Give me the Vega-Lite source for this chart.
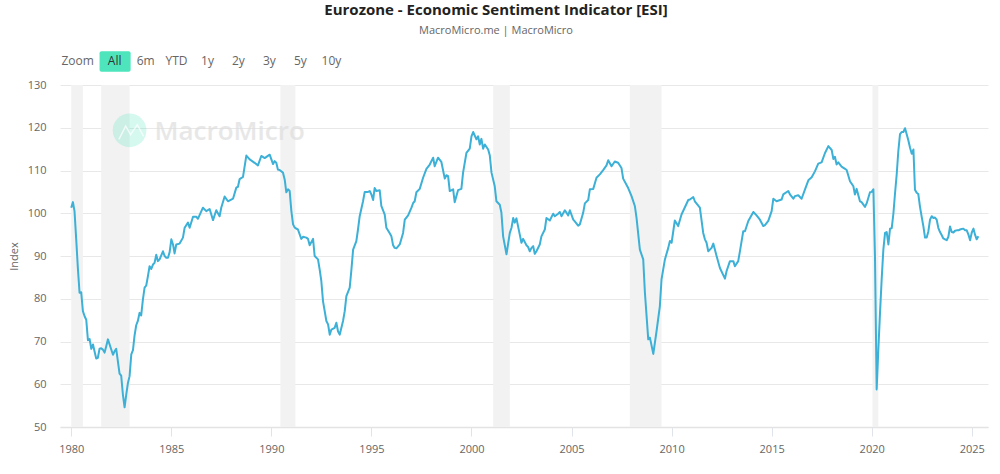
{
  "$schema": "https://vega.github.io/schema/vega-lite/v6.json",
  "description": "Eurozone Economic Sentiment Indicator with recession bands.",
  "width": 928,
  "height": 342,
  "autosize": {"type": "none"},
  "padding": {"left": 60, "top": 85, "right": 12, "bottom": 47},
  "background": "#ffffff",
  "title": {
    "text": "Eurozone - Economic Sentiment Indicator [ESI]",
    "subtitle": "MacroMicro.me | MacroMicro",
    "anchor": "middle",
    "frame": "group",
    "dx": -28,
    "offset": 15,
    "font": "Open Sans",
    "fontSize": 15,
    "fontWeight": "bold",
    "color": "#222222",
    "subtitleFont": "Open Sans",
    "subtitleFontSize": 11,
    "subtitleColor": "#666666",
    "subtitlePadding": 7
  },
  "config": {
    "view": {"stroke": null},
    "font": "Open Sans"
  },
  "datasets": {
    "recessions": [
      {"start": "1980-01-01", "end": "1980-08-01"},
      {"start": "1981-07-01", "end": "1982-12-01"},
      {"start": "1990-06-15", "end": "1991-03-15"},
      {"start": "2001-02-01", "end": "2001-12-01"},
      {"start": "2007-12-01", "end": "2009-07-01"},
      {"start": "2020-01-15", "end": "2020-05-01"}
    ],
    "rangeButton": [
      {"start": "1981-06-01", "end": "1982-12-20", "low": 133.1, "high": 137.9}
    ],
    "rangeLabels": [
      {"date": "1980-04-27", "level": 135.5, "label": "Zoom", "active": "no"},
      {"date": "1982-03-03", "level": 135.5, "label": "All", "active": "yes"},
      {"date": "1983-09-20", "level": 135.5, "label": "6m", "active": "no"},
      {"date": "1985-04-05", "level": 135.5, "label": "YTD", "active": "no"},
      {"date": "1986-10-23", "level": 135.5, "label": "1y", "active": "no"},
      {"date": "1988-05-10", "level": 135.5, "label": "2y", "active": "no"},
      {"date": "1989-11-25", "level": 135.5, "label": "3y", "active": "no"},
      {"date": "1991-06-15", "level": 135.5, "label": "5y", "active": "no"},
      {"date": "1993-01-01", "level": 135.5, "label": "10y", "active": "no"}
    ],
    "logoDisc": [{"date": "1982-12-01", "level": 119.4}],
    "logoPeaks": [
      {"date": "1982-05-20", "level": 117.3},
      {"date": "1982-09-20", "level": 120.4},
      {"date": "1982-12-20", "level": 118.4},
      {"date": "1983-04-20", "level": 120.7},
      {"date": "1983-08-15", "level": 118.0}
    ],
    "logoWord": [{"date": "1984-03-01", "level": 119, "label": "MacroMicro"}],
    "esi": [
      {"date":"1980-01-01","esi":101.3},{"date":"1980-02-01","esi":102.6},{"date":"1980-03-01","esi":100.5},{"date":"1980-04-01","esi":93.9},{"date":"1980-05-01","esi":87.2},{"date":"1980-06-01","esi":81.4},{"date":"1980-07-01","esi":81.5},{"date":"1980-08-01","esi":77.1},{"date":"1980-09-01","esi":75.9},{"date":"1980-10-01","esi":75.1},{"date":"1980-11-01","esi":70.3},{"date":"1980-12-01","esi":70.6},
      {"date":"1981-01-01","esi":68.3},{"date":"1981-02-01","esi":69.3},{"date":"1981-03-01","esi":67.7},{"date":"1981-04-01","esi":66.0},{"date":"1981-05-01","esi":66.2},{"date":"1981-06-01","esi":68.3},{"date":"1981-07-01","esi":68.4},{"date":"1981-08-01","esi":68.1},{"date":"1981-09-01","esi":67.4},{"date":"1981-10-01","esi":68.9},{"date":"1981-11-01","esi":70.5},
      {"date":"1982-02-01","esi":66.9},{"date":"1982-03-01","esi":67.7},{"date":"1982-04-01","esi":68.3},{"date":"1982-05-01","esi":65.4},{"date":"1982-06-01","esi":62.5},{"date":"1982-07-01","esi":62.0},{"date":"1982-08-01","esi":57.6},{"date":"1982-09-01","esi":54.6},{"date":"1982-10-01","esi":57.6},{"date":"1982-11-01","esi":60.3},{"date":"1982-12-01","esi":61.9},
      {"date":"1983-01-01","esi":67.0},{"date":"1983-02-01","esi":68.0},{"date":"1983-03-01","esi":71.3},{"date":"1983-04-01","esi":73.8},{"date":"1983-05-01","esi":74.8},{"date":"1983-06-01","esi":76.7},{"date":"1983-07-01","esi":76.1},{"date":"1983-08-01","esi":79.8},{"date":"1983-09-01","esi":82.6},{"date":"1983-10-01","esi":83.1},{"date":"1983-11-01","esi":85.3},{"date":"1983-12-01","esi":87.6},
      {"date":"1984-01-01","esi":87.0},{"date":"1984-02-01","esi":88.0},{"date":"1984-03-01","esi":88.4},{"date":"1984-04-01","esi":90.3},{"date":"1984-05-01","esi":88.8},{"date":"1984-06-01","esi":89.2},{"date":"1984-08-01","esi":91.1},{"date":"1984-09-01","esi":90.0},{"date":"1984-10-01","esi":89.6},{"date":"1984-11-01","esi":89.6},{"date":"1984-12-01","esi":90.9},
      {"date":"1985-01-01","esi":93.9},{"date":"1985-02-01","esi":92.7},{"date":"1985-03-01","esi":90.6},{"date":"1985-04-01","esi":92.7},{"date":"1985-06-01","esi":92.9},{"date":"1985-08-01","esi":94.3},{"date":"1985-09-01","esi":96.6},{"date":"1985-11-01","esi":97.8},{"date":"1985-12-01","esi":96.6},
      {"date":"1986-02-01","esi":99.2},{"date":"1986-04-01","esi":99.2},{"date":"1986-05-01","esi":98.7},{"date":"1986-08-01","esi":101.3},{"date":"1986-10-01","esi":100.5},{"date":"1986-12-01","esi":101.0},
      {"date":"1987-02-01","esi":98.4},{"date":"1987-04-01","esi":100.7},{"date":"1987-06-01","esi":99.3},{"date":"1987-07-01","esi":101.3},{"date":"1987-09-01","esi":103.9},{"date":"1987-11-01","esi":102.8},
      {"date":"1988-02-01","esi":103.4},{"date":"1988-04-01","esi":106.0},{"date":"1988-05-01","esi":106.2},{"date":"1988-06-01","esi":108.0},{"date":"1988-08-01","esi":108.5},{"date":"1988-10-01","esi":113.5},{"date":"1988-12-01","esi":112.6},
      {"date":"1989-03-01","esi":111.8},{"date":"1989-05-01","esi":111.2},{"date":"1989-07-01","esi":113.4},{"date":"1989-09-01","esi":112.9},{"date":"1989-12-01","esi":113.7},
      {"date":"1990-02-01","esi":111.5},{"date":"1990-03-01","esi":112.2},{"date":"1990-04-01","esi":111.8},{"date":"1990-05-01","esi":110.2},{"date":"1990-06-01","esi":110.1},{"date":"1990-08-01","esi":109.5},{"date":"1990-09-01","esi":107.9},{"date":"1990-10-01","esi":104.9},{"date":"1990-11-01","esi":105.6},{"date":"1990-12-01","esi":105.2},
      {"date":"1991-01-01","esi":100.5},{"date":"1991-02-01","esi":97.4},{"date":"1991-03-01","esi":96.7},{"date":"1991-04-01","esi":96.4},{"date":"1991-05-01","esi":96.2},{"date":"1991-07-01","esi":94.0},{"date":"1991-08-01","esi":94.5},{"date":"1991-10-01","esi":94.3},{"date":"1991-11-01","esi":94.0},{"date":"1991-12-01","esi":92.5},
      {"date":"1992-02-01","esi":94.0},{"date":"1992-03-01","esi":90.0},{"date":"1992-05-01","esi":89.2},{"date":"1992-06-01","esi":86.8},{"date":"1992-07-01","esi":84.1},{"date":"1992-08-01","esi":79.4},{"date":"1992-10-01","esi":74.8},{"date":"1992-11-01","esi":74.0},{"date":"1992-12-01","esi":71.6},
      {"date":"1993-01-01","esi":72.8},{"date":"1993-03-01","esi":73.2},{"date":"1993-04-01","esi":74.4},{"date":"1993-05-01","esi":72.4},{"date":"1993-06-01","esi":71.6},{"date":"1993-08-01","esi":74.8},{"date":"1993-09-01","esi":77.1},{"date":"1993-10-01","esi":80.6},{"date":"1993-12-01","esi":82.6},
      {"date":"1994-01-01","esi":86.8},{"date":"1994-02-01","esi":91.5},{"date":"1994-04-01","esi":93.5},{"date":"1994-05-01","esi":96.2},{"date":"1994-06-01","esi":99.3},{"date":"1994-08-01","esi":102.8},{"date":"1994-09-01","esi":105.0},{"date":"1994-11-01","esi":105.0},{"date":"1994-12-01","esi":105.2},
      {"date":"1995-01-01","esi":104.4},{"date":"1995-02-01","esi":103.1},{"date":"1995-03-01","esi":105.9},{"date":"1995-04-01","esi":105.2},{"date":"1995-06-01","esi":105.4},{"date":"1995-07-01","esi":101.7},{"date":"1995-09-01","esi":99.7},{"date":"1995-10-01","esi":96.6},{"date":"1995-12-01","esi":95.3},
      {"date":"1996-01-01","esi":94.6},{"date":"1996-02-01","esi":92.5},{"date":"1996-03-01","esi":91.9},{"date":"1996-04-01","esi":91.8},{"date":"1996-06-01","esi":92.7},{"date":"1996-08-01","esi":95.4},{"date":"1996-09-01","esi":98.5},{"date":"1996-11-01","esi":99.5},
      {"date":"1997-01-01","esi":101.3},{"date":"1997-02-01","esi":102.4},{"date":"1997-03-01","esi":102.8},{"date":"1997-04-01","esi":104.9},{"date":"1997-06-01","esi":105.7},{"date":"1997-08-01","esi":108.3},{"date":"1997-10-01","esi":110.4},{"date":"1997-12-01","esi":111.4},
      {"date":"1998-02-01","esi":113.0},{"date":"1998-03-01","esi":111.0},{"date":"1998-05-01","esi":113.0},{"date":"1998-07-01","esi":112.0},{"date":"1998-09-01","esi":108.1},{"date":"1998-10-01","esi":108.9},{"date":"1998-11-01","esi":108.7},{"date":"1998-12-01","esi":105.2},
      {"date":"1999-02-01","esi":105.6},{"date":"1999-03-01","esi":102.6},{"date":"1999-05-01","esi":105.4},{"date":"1999-07-01","esi":105.7},{"date":"1999-08-01","esi":109.5},{"date":"1999-10-01","esi":114.1},{"date":"1999-12-01","esi":115.1},
      {"date":"2000-01-01","esi":118.0},{"date":"2000-02-01","esi":119.0},{"date":"2000-04-01","esi":117.3},{"date":"2000-05-01","esi":118.0},{"date":"2000-06-01","esi":116.1},{"date":"2000-07-01","esi":117.4},{"date":"2000-08-01","esi":115.1},{"date":"2000-09-01","esi":116.1},{"date":"2000-11-01","esi":114.9},{"date":"2000-12-01","esi":113.5},
      {"date":"2001-01-01","esi":109.5},{"date":"2001-03-01","esi":106.3},{"date":"2001-04-01","esi":102.8},{"date":"2001-06-01","esi":102.0},{"date":"2001-07-01","esi":100.1},{"date":"2001-08-01","esi":94.6},{"date":"2001-10-01","esi":90.4},{"date":"2001-12-01","esi":95.4},
      {"date":"2002-01-01","esi":96.6},{"date":"2002-02-01","esi":98.9},{"date":"2002-03-01","esi":97.8},{"date":"2002-04-01","esi":98.8},{"date":"2002-06-01","esi":95.0},{"date":"2002-07-01","esi":93.1},{"date":"2002-08-01","esi":94.0},{"date":"2002-10-01","esi":92.5},{"date":"2002-11-01","esi":92.1},{"date":"2002-12-01","esi":91.1},
      {"date":"2003-01-01","esi":91.9},{"date":"2003-02-01","esi":92.3},{"date":"2003-03-01","esi":90.5},{"date":"2003-04-01","esi":91.1},{"date":"2003-06-01","esi":92.7},{"date":"2003-07-01","esi":94.6},{"date":"2003-09-01","esi":96.2},{"date":"2003-10-01","esi":98.9},{"date":"2003-12-01","esi":98.3},
      {"date":"2004-02-01","esi":99.9},{"date":"2004-03-01","esi":99.3},{"date":"2004-05-01","esi":99.9},{"date":"2004-06-01","esi":100.3},{"date":"2004-07-01","esi":99.3},{"date":"2004-09-01","esi":100.7},{"date":"2004-11-01","esi":99.5},{"date":"2004-12-01","esi":100.7},
      {"date":"2005-02-01","esi":98.5},{"date":"2005-03-01","esi":98.1},{"date":"2005-05-01","esi":97.1},{"date":"2005-06-01","esi":97.4},{"date":"2005-08-01","esi":100.1},{"date":"2005-09-01","esi":102.3},{"date":"2005-11-01","esi":103.1},{"date":"2005-12-01","esi":105.6},
      {"date":"2006-02-01","esi":105.7},{"date":"2006-04-01","esi":108.3},{"date":"2006-06-01","esi":109.1},{"date":"2006-08-01","esi":110.1},{"date":"2006-10-01","esi":111.2},{"date":"2006-11-01","esi":112.4},
      {"date":"2007-01-01","esi":111.0},{"date":"2007-03-01","esi":112.1},{"date":"2007-05-01","esi":111.8},{"date":"2007-07-01","esi":110.6},{"date":"2007-08-01","esi":108.1},{"date":"2007-11-01","esi":105.9},
      {"date":"2008-01-01","esi":104.0},{"date":"2008-03-01","esi":101.7},{"date":"2008-04-01","esi":98.9},{"date":"2008-06-01","esi":91.5},{"date":"2008-08-01","esi":89.2},{"date":"2008-09-01","esi":81.4},{"date":"2008-11-01","esi":70.5},{"date":"2008-12-01","esi":70.9},
      {"date":"2009-02-01","esi":67.1},{"date":"2009-04-01","esi":72.4},{"date":"2009-06-01","esi":78.3},{"date":"2009-07-01","esi":84.5},{"date":"2009-09-01","esi":89.2},{"date":"2009-11-01","esi":91.9},{"date":"2009-12-01","esi":93.5},
      {"date":"2010-01-01","esi":93.1},{"date":"2010-03-01","esi":98.3},{"date":"2010-05-01","esi":97.0},{"date":"2010-07-01","esi":99.7},{"date":"2010-09-01","esi":101.4},{"date":"2010-11-01","esi":103.1},{"date":"2010-12-01","esi":103.2},
      {"date":"2011-02-01","esi":103.8},{"date":"2011-03-01","esi":102.8},{"date":"2011-06-01","esi":101.3},{"date":"2011-08-01","esi":95.4},{"date":"2011-09-01","esi":93.9},{"date":"2011-10-01","esi":93.1},{"date":"2011-11-01","esi":91.1},
      {"date":"2012-01-01","esi":91.9},{"date":"2012-02-01","esi":92.9},{"date":"2012-04-01","esi":90.0},{"date":"2012-06-01","esi":87.2},{"date":"2012-09-01","esi":84.7},{"date":"2012-10-01","esi":86.5},{"date":"2012-12-01","esi":88.8},
      {"date":"2013-02-01","esi":88.8},{"date":"2013-03-01","esi":87.6},{"date":"2013-05-01","esi":88.8},{"date":"2013-06-01","esi":91.1},{"date":"2013-08-01","esi":95.8},{"date":"2013-09-01","esi":95.8},{"date":"2013-11-01","esi":98.2},
      {"date":"2014-02-01","esi":100.3},{"date":"2014-04-01","esi":99.5},{"date":"2014-06-01","esi":98.5},{"date":"2014-08-01","esi":97.0},{"date":"2014-09-01","esi":97.2},{"date":"2014-11-01","esi":98.2},
      {"date":"2015-01-01","esi":100.5},{"date":"2015-02-01","esi":103.4},{"date":"2015-04-01","esi":102.8},{"date":"2015-07-01","esi":103.2},{"date":"2015-08-01","esi":104.4},{"date":"2015-11-01","esi":105.2},{"date":"2015-12-01","esi":104.4},
      {"date":"2016-02-01","esi":103.4},{"date":"2016-03-01","esi":104.0},{"date":"2016-05-01","esi":104.2},{"date":"2016-07-01","esi":103.4},{"date":"2016-09-01","esi":105.6},{"date":"2016-11-01","esi":107.7},
      {"date":"2017-01-01","esi":108.4},{"date":"2017-03-01","esi":109.8},{"date":"2017-05-01","esi":111.6},{"date":"2017-07-01","esi":111.9},{"date":"2017-09-01","esi":114.1},{"date":"2017-11-01","esi":115.7},
      {"date":"2018-01-01","esi":114.8},{"date":"2018-02-01","esi":112.7},{"date":"2018-03-01","esi":113.2},{"date":"2018-04-01","esi":111.4},{"date":"2018-05-01","esi":111.9},{"date":"2018-07-01","esi":110.9},{"date":"2018-09-01","esi":110.4},{"date":"2018-10-01","esi":110.1},{"date":"2018-12-01","esi":107.5},
      {"date":"2019-02-01","esi":106.3},{"date":"2019-03-01","esi":104.4},{"date":"2019-04-01","esi":105.7},{"date":"2019-06-01","esi":102.8},{"date":"2019-07-01","esi":102.6},{"date":"2019-09-01","esi":101.5},{"date":"2019-10-01","esi":102.3},{"date":"2019-12-01","esi":104.9},
      {"date":"2020-01-01","esi":105.0},{"date":"2020-02-01","esi":105.6},{"date":"2020-03-01","esi":90.0},{"date":"2020-04-01","esi":58.8},{"date":"2020-05-01","esi":68.0},{"date":"2020-06-01","esi":76.7},{"date":"2020-07-01","esi":84.5},{"date":"2020-08-01","esi":91.5},{"date":"2020-09-01","esi":95.4},{"date":"2020-10-01","esi":95.6},{"date":"2020-11-01","esi":92.7},{"date":"2020-12-01","esi":96.4},
      {"date":"2021-01-01","esi":96.5},{"date":"2021-02-01","esi":100.0},{"date":"2021-03-01","esi":104.5},{"date":"2021-04-01","esi":109.0},{"date":"2021-05-01","esi":114.5},{"date":"2021-06-01","esi":118.5},{"date":"2021-07-01","esi":119.0},{"date":"2021-08-01","esi":119.0},{"date":"2021-09-01","esi":119.9},{"date":"2021-10-01","esi":118.5},{"date":"2021-11-01","esi":117.0},{"date":"2021-12-01","esi":115.3},
      {"date":"2022-01-01","esi":113.9},{"date":"2022-02-01","esi":114.9},{"date":"2022-03-01","esi":105.5},{"date":"2022-04-01","esi":104.8},{"date":"2022-05-01","esi":104.5},{"date":"2022-06-01","esi":101.5},{"date":"2022-07-01","esi":99.2},{"date":"2022-08-01","esi":97.0},{"date":"2022-09-01","esi":94.3},{"date":"2022-10-01","esi":94.3},{"date":"2022-11-01","esi":95.8},{"date":"2022-12-01","esi":98.5},
      {"date":"2023-01-01","esi":99.3},{"date":"2023-02-01","esi":98.9},{"date":"2023-03-01","esi":99.0},{"date":"2023-04-01","esi":98.5},{"date":"2023-05-01","esi":96.6},{"date":"2023-06-01","esi":95.6},{"date":"2023-07-01","esi":94.9},{"date":"2023-08-01","esi":94.1},{"date":"2023-09-01","esi":93.9},{"date":"2023-10-01","esi":93.7},{"date":"2023-11-01","esi":94.5},{"date":"2023-12-01","esi":96.9},
      {"date":"2024-01-01","esi":95.6},{"date":"2024-02-01","esi":95.5},{"date":"2024-03-01","esi":95.9},{"date":"2024-04-01","esi":96.0},{"date":"2024-05-01","esi":96.0},{"date":"2024-06-01","esi":96.2},{"date":"2024-07-01","esi":96.3},{"date":"2024-08-01","esi":96.4},{"date":"2024-09-01","esi":96.0},{"date":"2024-10-01","esi":96.0},{"date":"2024-11-01","esi":95.0},{"date":"2024-12-01","esi":93.7},
      {"date":"2025-01-01","esi":95.5},{"date":"2025-02-01","esi":96.4},{"date":"2025-03-01","esi":95.0},{"date":"2025-04-01","esi":93.9},{"date":"2025-05-01","esi":94.6}
    ]
  },
  "layer": [
    {
      "data": {"name": "recessions"},
      "mark": {"type": "rect", "color": "#f2f2f2"},
      "encoding": {
        "x": {
          "field": "start",
          "type": "temporal",
          "scale": {"type": "utc", "domain": ["1979-06-10", "2025-10-24"]},
          "axis": {
            "title": null,
            "format": "%Y",
            "tickCount": {"interval": "year", "step": 5},
            "grid": false,
            "domainColor": "#e3e3e3",
            "domainWidth": 1.5,
            "tickColor": "#dfe3ea",
            "tickSize": 9,
            "labelColor": "#666666",
            "labelFont": "Open Sans",
            "labelFontSize": 11,
            "labelPadding": 7,
            "labelFlush": false,
            "labelOverlap": false
          }
        },
        "x2": {"field": "end"}
      }
    },
    {
      "data": {"name": "logoDisc"},
      "mark": {"type": "point", "filled": true, "size": 1134, "color": "#4fe0bb", "opacity": 0.24},
      "encoding": {
        "x": {"field": "date", "type": "temporal"},
        "y": {
          "field": "level",
          "type": "quantitative",
          "scale": {"domain": [50, 130], "nice": false},
          "axis": {
            "title": "Index",
            "titleColor": "#666666",
            "titleFont": "Open Sans",
            "titleFontSize": 11,
            "titleFontWeight": "normal",
            "titlePadding": 8,
            "values": [50, 60, 70, 80, 90, 100, 110, 120, 130],
            "grid": true,
            "gridColor": "#e8e8e8",
            "domain": false,
            "ticks": false,
            "labelColor": "#666666",
            "labelFont": "Open Sans",
            "labelFontSize": 11,
            "labelPadding": 14
          }
        }
      }
    },
    {
      "data": {"name": "logoPeaks"},
      "mark": {"type": "line", "color": "#ffffff", "strokeWidth": 1.5, "opacity": 0.7},
      "encoding": {
        "x": {"field": "date", "type": "temporal"},
        "y": {"field": "level", "type": "quantitative"}
      }
    },
    {
      "data": {"name": "logoWord"},
      "mark": {"type": "text", "align": "left", "baseline": "middle", "font": "Open Sans", "fontSize": 26, "fontWeight": 600, "color": "#dedede", "opacity": 0.7},
      "encoding": {
        "x": {"field": "date", "type": "temporal"},
        "y": {"field": "level", "type": "quantitative"},
        "text": {"field": "label"}
      }
    },
    {
      "data": {"name": "esi"},
      "mark": {"type": "line", "color": "#3cb0d6", "strokeWidth": 2, "strokeJoin": "round"},
      "encoding": {
        "x": {"field": "date", "type": "temporal"},
        "y": {"field": "esi", "type": "quantitative"}
      }
    },
    {
      "data": {"name": "rangeButton"},
      "mark": {"type": "rect", "color": "#4ee5bd", "cornerRadius": 2},
      "encoding": {
        "x": {"field": "start", "type": "temporal"},
        "x2": {"field": "end"},
        "y": {"field": "low", "type": "quantitative"},
        "y2": {"field": "high"}
      }
    },
    {
      "data": {"name": "rangeLabels"},
      "mark": {"type": "text", "align": "center", "baseline": "middle", "font": "Open Sans", "fontSize": 12},
      "encoding": {
        "x": {"field": "date", "type": "temporal"},
        "y": {"field": "level", "type": "quantitative"},
        "text": {"field": "label"},
        "color": {
          "field": "active",
          "type": "nominal",
          "legend": null,
          "scale": {"domain": ["no", "yes"], "range": ["#666666", "#333333"]}
        }
      }
    }
  ]
}
